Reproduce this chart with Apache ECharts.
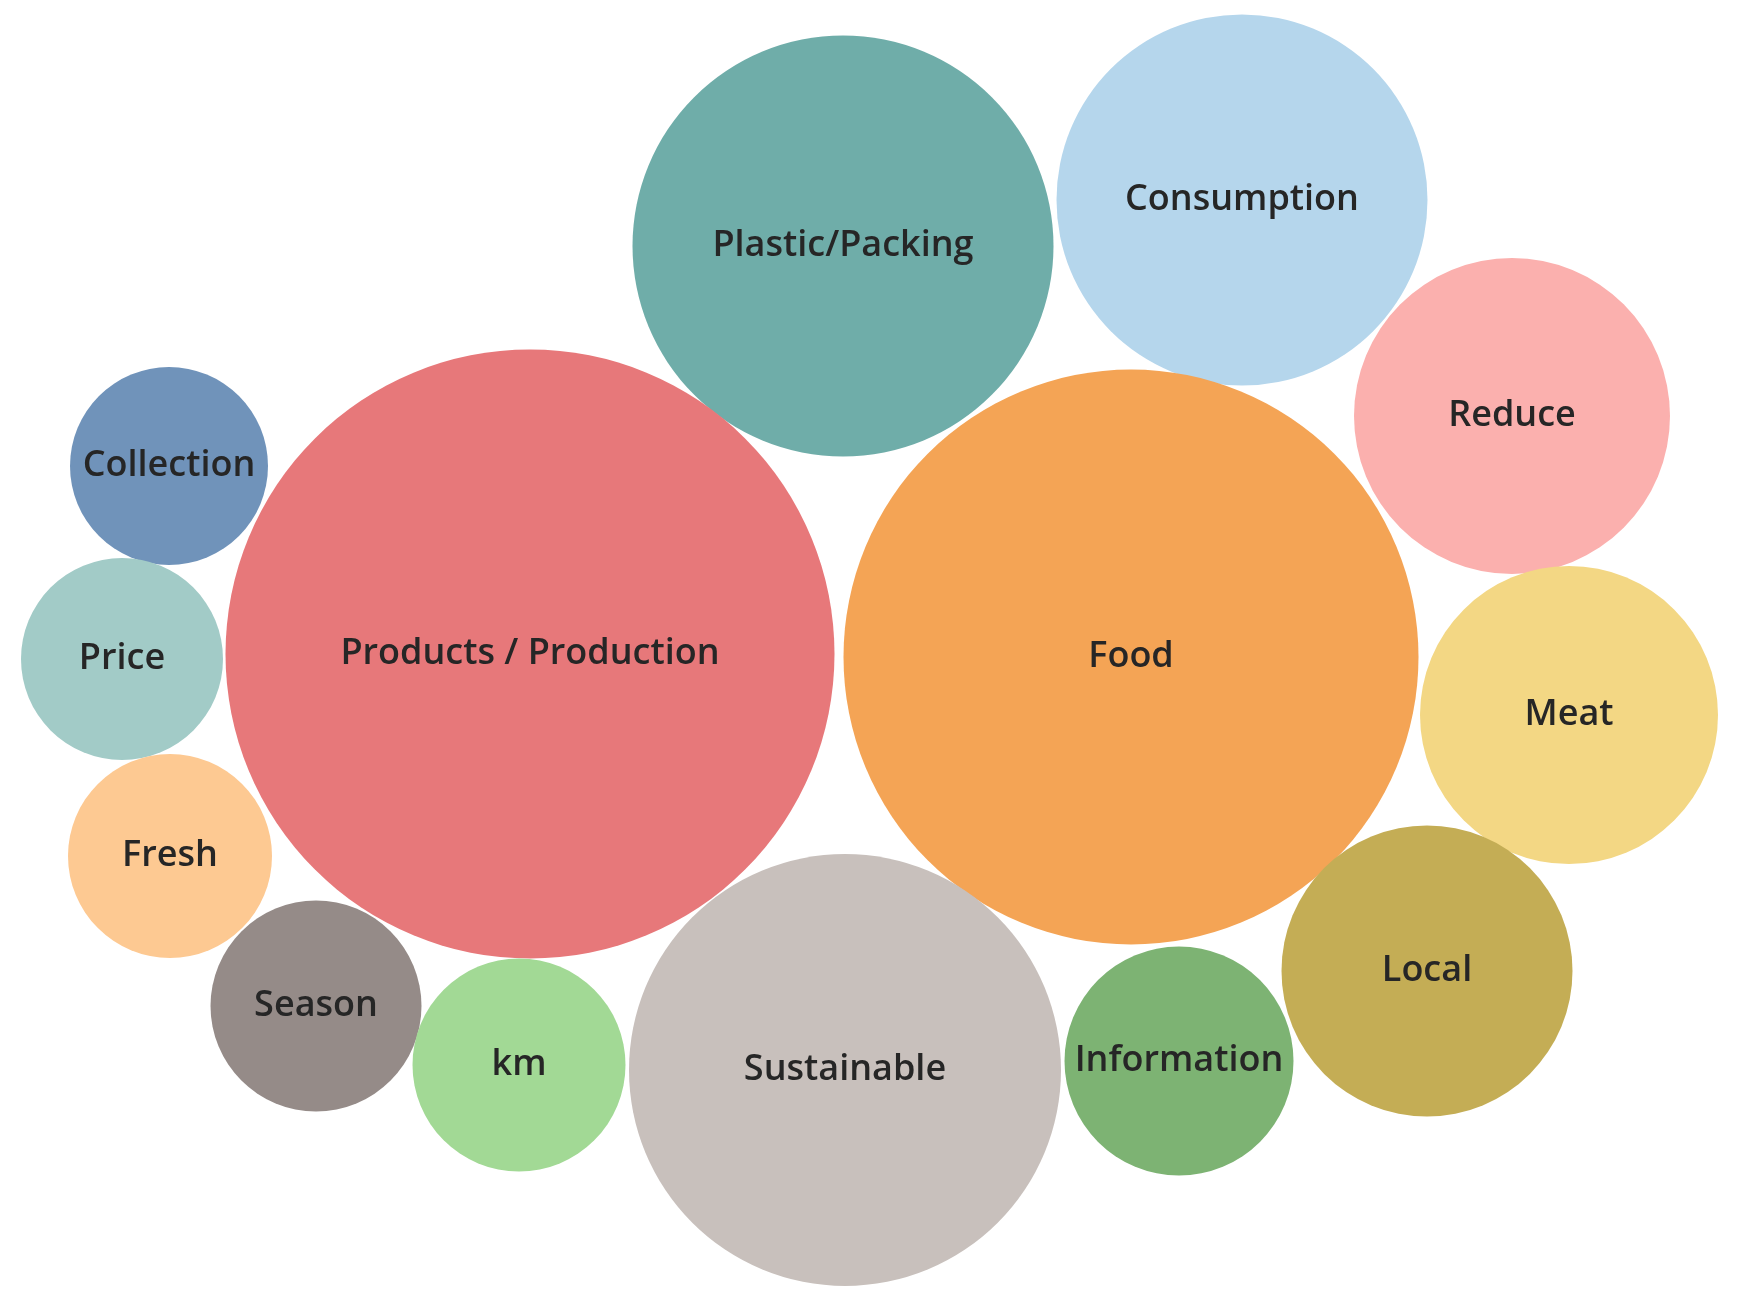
<!DOCTYPE html><html><head><meta charset="utf-8">
<script src="https://cdn.jsdelivr.net/npm/echarts@6/dist/echarts.min.js"></script>
<style>html,body{margin:0;background:#fff}#c{width:1739px;height:1300px}</style></head><body><div id="c"></div><script>
const names=['Plastic/Packing','Consumption','Reduce','Collection','Products / Production','Food','Price','Meat','Fresh','Season','km','Sustainable','Information','Local'];
const xs=[843,1242,1512,169,530,1131,122,1569,170,316,519,845,1179,1427];
const ys=[246,200,416,466,654,657,659,715,856,1006,1065,1070,1061,971];
const sizes=[421,371,316,198,609,575,202,298,204,211,213,432,229,291];
const colors=['#6fada9','#b5d6ec','#fbb0ae','#7093ba','#e7787a','#f4a455','#a2cbc7','#f3d784','#fdc992','#958b88','#a2d995','#c8c0bc','#7db373','#c4ad55'];
const data=names.map((n,i)=>({name:n,value:[xs[i],ys[i]],symbolSize:sizes[i],itemStyle:{color:colors[i]}}));
const ch=echarts.init(document.getElementById('c'));
ch.setOption({animation:false,grid:{left:0,right:0,top:0,bottom:0},
xAxis:{type:'value',min:0,max:1739,show:false},
yAxis:{type:'value',min:0,max:1300,inverse:true,show:false},
series:[{type:'scatter',data,label:{show:true,formatter:'{b}',color:'#262626',fontSize:36,fontWeight:600,fontFamily:'Open Sans'},itemStyle:{opacity:1}}]});
</script></body></html>
